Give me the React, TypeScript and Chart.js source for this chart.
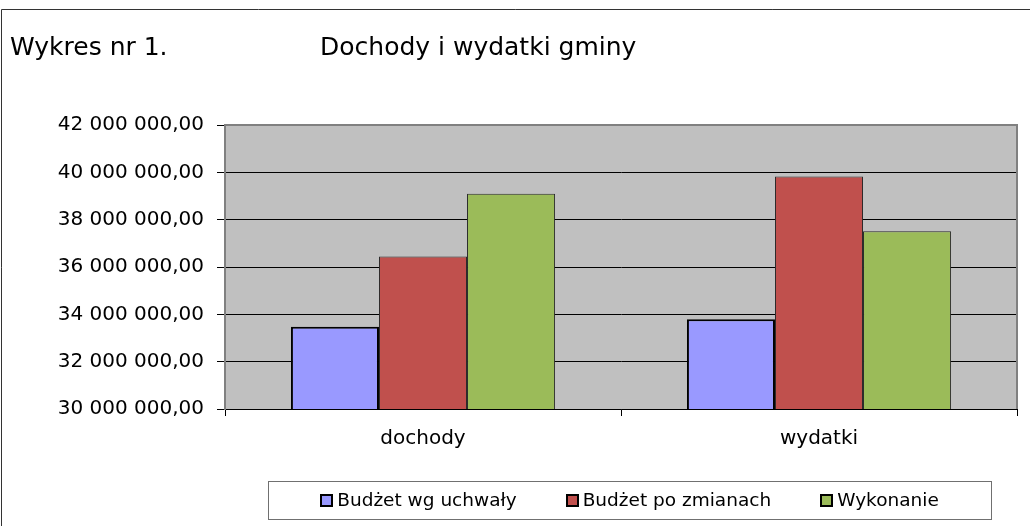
import React, { useEffect, useRef } from "react";
import { Chart, registerables } from "chart.js";

Chart.register(...registerables);

const categories = ["dochody", "wydatki"];
const seriesNames = ["Budżet wg uchwały", "Budżet po zmianach", "Wykonanie"];
const budzetWgUchwaly = [33480000, 33790000];
const budzetPoZmianach = [36440000, 39820000];
const wykonanie = [39090000, 37510000];
const seriesColors = ["#9999FF", "#C0504D", "#9BBB59"];
const seriesBorderColors = ["#000000", "#2a2a2a", "#2a2a2a"];
const seriesBorderWidths = [2, 1, 1];
const yMin = 30000000;
const yMax = 42000000;
const yStep = 2000000;
const chartLabel = "Wykres nr 1.";
const chartTitle = "Dochody i wydatki gminy";

const FONT = "'DejaVu Sans', 'Liberation Sans', Arial, sans-serif";

function formatPl(v: number): string {
  const s = Math.round(v)
    .toString()
    .replace(/\B(?=(\d{3})+(?!\d))/g, " ");
  return s + ",00";
}

const decorPlugin = {
  id: "decor",
  beforeDraw(chart: any) {
    const { ctx, chartArea, width, height } = chart;
    ctx.save();
    ctx.fillStyle = "#ffffff";
    ctx.fillRect(0, 0, width, height);
    ctx.fillStyle = "#C0C0C0";
    ctx.fillRect(
      chartArea.left,
      chartArea.top,
      chartArea.right - chartArea.left,
      chartArea.bottom - chartArea.top
    );
    ctx.restore();
  },
  afterDraw(chart: any) {
    const { ctx, chartArea, width } = chart;
    ctx.save();
    // outer frame
    ctx.strokeStyle = "#333333";
    ctx.lineWidth = 1;
    ctx.beginPath();
    ctx.moveTo(1.5, chart.height);
    ctx.lineTo(1.5, 9.5);
    ctx.lineTo(width, 9.5);
    ctx.stroke();

    // plot area border (top, right)
    ctx.strokeStyle = "#808080";
    ctx.lineWidth = 2;
    ctx.beginPath();
    ctx.moveTo(chartArea.left, chartArea.top);
    ctx.lineTo(chartArea.right, chartArea.top);
    ctx.lineTo(chartArea.right, chartArea.bottom);
    ctx.stroke();

    // titles
    ctx.fillStyle = "#000000";
    ctx.font = "25px " + FONT;
    ctx.textBaseline = "alphabetic";
    ctx.textAlign = "left";
    ctx.fillText(chartLabel, 10, 55);
    ctx.fillText(chartTitle, 320, 55);

    // legend
    const boxL = 268.5,
      boxR = 991.5,
      boxT = 481.5,
      boxB = 519.5;
    ctx.strokeStyle = "#707070";
    ctx.lineWidth = 1;
    ctx.strokeRect(boxL, boxT, boxR - boxL, boxB - boxT);
    ctx.font = "18.5px " + FONT;
    const sq = 11;
    const gapText = 5;
    const gapItems = 50;
    const datasets = chart.data.datasets;
    const widths = datasets.map(
      (ds: any) => sq + gapText + ctx.measureText(ds.label).width
    );
    const total =
      widths.reduce((a: number, b: number) => a + b, 0) +
      gapItems * (datasets.length - 1);
    let x = (boxL + boxR) / 2 - total / 2;
    const cy = (boxT + boxB) / 2;
    datasets.forEach((ds: any, i: number) => {
      ctx.fillStyle = ds.backgroundColor;
      ctx.fillRect(Math.round(x), Math.round(cy - sq / 2), sq, sq);
      ctx.strokeStyle = "#000000";
      ctx.lineWidth = 2;
      ctx.strokeRect(Math.round(x), Math.round(cy - sq / 2), sq, sq);
      ctx.fillStyle = "#000000";
      ctx.textBaseline = "middle";
      ctx.fillText(ds.label, x + sq + gapText, cy + 1);
      x += widths[i] + gapItems;
    });
    ctx.restore();
  },
};

export default function App() {
  const canvasRef = useRef<HTMLCanvasElement | null>(null);

  useEffect(() => {
    const canvas = canvasRef.current;
    if (!canvas) return;
    const seriesValues = [budzetWgUchwaly, budzetPoZmianach, wykonanie];
    const chart = new Chart(canvas, {
      type: "bar",
      data: {
        labels: categories,
        datasets: seriesNames.map((name, i) => ({
          label: name,
          data: seriesValues[i],
          backgroundColor: seriesColors[i],
          borderColor: seriesBorderColors[i],
          borderWidth: seriesBorderWidths[i],
          borderSkipped: "start",
          categoryPercentage: 0.667,
          barPercentage: 1.0,
        })),
      },
      options: {
        animation: false,
        responsive: false,
        maintainAspectRatio: false,
        layout: { padding: { top: 125, right: 13, left: 0, bottom: 0 } },
        plugins: {
          legend: { display: false },
          title: { display: false },
          tooltip: { enabled: false },
        },
        scales: {
          x: {
            grid: {
              display: true,
              offset: true,
              drawOnChartArea: false,
              drawTicks: true,
              tickLength: 7,
              color: "#000000",
              lineWidth: 1,
            },
            border: { display: true, color: "#000000", width: 1 },
            ticks: {
              color: "#000000",
              font: { family: FONT, size: 20 },
              padding: 11,
              maxRotation: 0,
            },
            afterFit(scale: any) {
              scale.height = 117;
            },
          },
          y: {
            min: yMin,
            max: yMax,
            ticks: {
              stepSize: yStep,
              color: "#000000",
              font: { family: FONT, size: 20 },
              padding: 13,
              callback: (v: any) => formatPl(Number(v)),
            },
            grid: {
              color: "#000000",
              lineWidth: 1,
              drawTicks: true,
              tickLength: 8,
            },
            border: { display: true, color: "#808080", width: 2 },
            afterFit(scale: any) {
              scale.width = 225;
            },
          },
        },
      },
      plugins: [decorPlugin],
    });
    return () => chart.destroy();
  }, []);

  return (
    <div style={{ position: "absolute", left: 0, top: 0, width: 1030, height: 526 }}>
      <canvas ref={canvasRef} width={1030} height={526} style={{ display: "block" }} />
    </div>
  );
}
